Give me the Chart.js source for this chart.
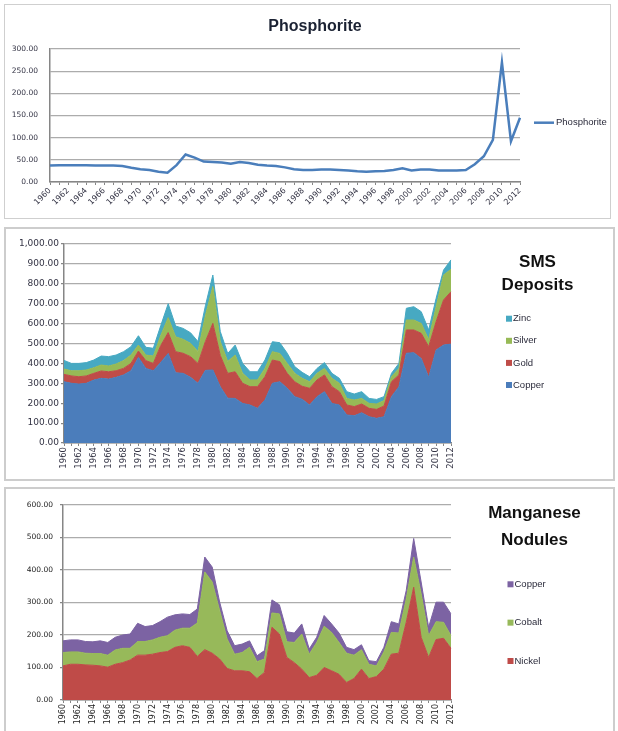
<!DOCTYPE html>
<html><head><meta charset="utf-8">
<script src="https://cdn.jsdelivr.net/npm/chart.js@4.4.1/dist/chart.umd.min.js"></script>
<style>
html,body{margin:0;padding:0;background:#fff;}
body{width:618px;height:731px;position:relative;overflow:hidden;}
.panel{position:absolute;box-sizing:border-box;border:1px solid #cfcfcf;}
canvas{position:absolute;}
</style></head><body>
<div class="panel" style="left:4px;top:4px;width:607px;height:215px;"></div>
<div class="panel" style="left:4px;top:227px;width:611px;height:254px;border:2px solid #cdcdcd;"></div>
<div class="panel" style="left:4px;top:487px;width:611px;height:250px;border:2px solid #cdcdcd;"></div>
<canvas id="c1" width="605" height="213" style="left:5px;top:5px;"></canvas>
<canvas id="c2" width="608" height="251" style="left:5px;top:228px;"></canvas>
<canvas id="c3" width="608" height="243" style="left:5px;top:488px;"></canvas>
<script>
const yearLabels = ['1960','1961','1962','1963','1964','1965','1966','1967','1968','1969',
'1970','1971','1972','1973','1974','1975','1976','1977','1978','1979',
'1980','1981','1982','1983','1984','1985','1986','1987','1988','1989',
'1990','1991','1992','1993','1994','1995','1996','1997','1998','1999',
'2000','2001','2002','2003','2004','2005','2006','2007','2008','2009',
'2010','2011','2012'];

const phosphorite = [37,38,38,38,38,37,37,37,36,32, 29,27,23,21,38,62,55,46,45,44, 41,45,43,39,37,36,33,29,27,27, 28,28,27,26,24,23,24,25,27,31, 26,28,28,26,26,26,27,40,58,95, 270,92,145];

const smsCopper = [308,300,296,300,316,325,321,330,342,363, 430,375,363,405,450,353,350,330,300,365, 367,283,225,224,199,191,174,216,300,308, 275,233,220,191,233,258,199,191,141,137, 152,132,124,132,233,283,451,454,425,330, 467,492,497];
const smsGold = [37,37,37,37,34,37,37,33,33,37, 32,39,37,85,105,106,101,104,100,145, 234,157,125,134,101,92,109,117,117,101, 75,75,65,84,84,84,84,67,50,46, 44,42,45,54,75,59,117,114,126,154, 143,227,263];
const smsSilver = [27,26,30,30,28,30,29,34,39,42, 30,28,37,50,75,75,70,67,60,130, 185,70,60,84,50,34,34,42,42,41, 50,42,40,33,33,33,42,42,33,33, 28,25,27,27,25,33,50,50,50,36, 75,125,113];
const smsZinc = [43,37,37,37,39,45,47,45,45,42, 47,39,39,50,70,54,55,53,50,50, 58,50,40,50,50,41,41,42,50,54, 51,34,30,25,25,29,25,25,34,30, 34,25,23,20,17,25,59,67,59,48, 42,25,47];

const mnNickel = [105,110,110,108,107,105,101,110,115,123, 138,138,141,146,149,162,167,162,134,155, 144,126,97,90,90,87,66,85,224,203, 131,115,95,69,76,100,90,79,54,66, 95,66,72,95,141,144,239,347,193,131, 186,190,159];
const mnCobalt = [41,38,38,36,36,38,37,44,44,36, 42,42,44,47,49,53,54,59,103,239, 219,149,91,51,56,75,52,41,44,62, 48,62,108,72,101,127,118,98,90,72, 60,44,33,53,67,62,72,93,134,67, 55,49,39];
const mnCopper = [36,37,37,36,36,39,39,39,41,44, 56,46,44,48,57,47,44,42,43,46, 46,26,25,26,26,20,18,26,40,28, 31,29,31,16,16,33,26,29,18,17, 15,11,13,14,33,28,26,57,36,26, 60,62,67];

const FAM = '"Liberation Sans", Arial, sans-serif';
const fmt = (v) => Number(v).toLocaleString('en-US', {minimumFractionDigits: 2, maximumFractionDigits: 2});

const panelText = {
  id: 'panelText',
  afterDraw(chart, args, o) {
    const ctx = chart.ctx;
    ctx.save();
    ctx.fillStyle = o.titleColor;
    ctx.font = o.titleFont;
    ctx.textAlign = 'center';
    ctx.textBaseline = 'alphabetic';
    o.title.forEach((line, k) => ctx.fillText(line, o.titleX, o.titleY + k * o.titleStep));
    const items = chart.data.datasets.map(d => ({text: d.label, color: d.borderColor})).reverse();
    ctx.font = o.legendFont;
    ctx.textAlign = 'left';
    ctx.textBaseline = 'middle';
    items.forEach((it, k) => {
      const y = o.legendY + k * o.legendStep;
      if (o.marker === 'line') {
        ctx.strokeStyle = it.color; ctx.lineWidth = o.markerSize;
        ctx.beginPath(); ctx.moveTo(o.legendX, y); ctx.lineTo(o.legendX + o.markerLen, y); ctx.stroke();
      } else {
        ctx.fillStyle = it.color;
        ctx.fillRect(o.legendX, y - o.markerSize / 2, o.markerLen, o.markerSize);
      }
      ctx.fillStyle = o.legendColor;
      ctx.fillText(it.text, o.legendX + o.markerLen + o.gap, y);
    });
    ctx.restore();
  }
};

function makeOptions(c) {
  return {
    responsive: false,
    animation: false,
    layout: {padding: c.padding},
    plugins: {legend: {display: false}, title: {display: false}, tooltip: {enabled: false}, panelText: c.text},
    elements: {point: {radius: 0}, line: {tension: 0}},
    scales: {
      x: {
        offset: false,
        grid: {display: true, drawOnChartArea: false, drawTicks: true, tickLength: 3, color: '#868686'},
        border: {display: true, color: '#868686', width: 1.5},
        ticks: {autoSkip: false, maxRotation: c.rot, minRotation: c.rot, padding: c.xPad, color: c.xColor,
                font: c.xFont, callback: (v, i) => (i % 2 === 0 ? yearLabels[i] : '')},
        afterFit: (s) => { s.height = c.xHeight; }
      },
      y: {
        stacked: c.stacked,
        min: 0, max: c.max,
        ticks: {stepSize: c.step, padding: c.yPad, color: c.yColor, font: c.yFont, callback: fmt},
        grid: {color: '#acacac', lineWidth: 1.2, drawTicks: c.yTick > 0, tickLength: c.yTick, tickColor: '#868686'},
        border: {display: true, color: '#868686', width: 1.5},
        afterFit: (s) => { s.width = c.yWidth; }
      }
    }
  };
}

function area(label, data, color, first) {
  return {label, data, backgroundColor: color, borderColor: color, borderWidth: 1, fill: first ? 'origin' : '-1', pointRadius: 0};
}

new Chart(document.getElementById('c1'), {
  type: 'line',
  data: {labels: yearLabels, datasets: [{label: 'Phosphorite', data: phosphorite, borderColor: '#4a7ebb', backgroundColor: '#4a7ebb', borderWidth: 2.5, fill: false, pointRadius: 0}]},
  options: makeOptions({
    padding: {left: 0, top: 44, right: 90, bottom: 0},
    rot: 45, xPad: 1, xColor: '#333344', xFont: {family: 'DejaVu Sans', size: 8}, xHeight: 36,
    stacked: false, max: 300, step: 50, yPad: 12, yColor: '#333344', yFont: {family: 'DejaVu Sans', size: 7.5}, yTick: 0, yWidth: 45,
    text: {title: ['Phosphorite'], titleX: 310, titleY: 26, titleStep: 0, titleFont: 'bold 16px ' + FAM, titleColor: '#1b2233',
           marker: 'line', markerSize: 2.5, markerLen: 20, gap: 2, legendX: 529, legendY: 117.7, legendStep: 0,
           legendFont: '9.5px ' + FAM, legendColor: '#2a2a3a'}
  }),
  plugins: [panelText]
});

new Chart(document.getElementById('c2'), {
  type: 'line',
  data: {labels: yearLabels, datasets: [
    area('Copper', smsCopper, '#4b7dbb', true),
    area('Gold', smsGold, '#bf4c48', false),
    area('Silver', smsSilver, '#97ba56', false),
    area('Zinc', smsZinc, '#47a9c2', false)
  ]},
  options: makeOptions({
    padding: {left: 0, top: 16, right: 162, bottom: 0},
    rot: 90, xPad: 1, xColor: '#333344', xFont: {family: 'DejaVu Sans', size: 8.5}, xHeight: 36,
    stacked: true, max: 1000, step: 100, yPad: 2, yColor: '#333344', yFont: {family: 'DejaVu Sans', size: 9}, yTick: 3, yWidth: 59,
    text: {title: ['SMS', 'Deposits'], titleX: 532.5, titleY: 38.7, titleStep: 23.3, titleFont: 'bold 17px ' + FAM, titleColor: '#111',
           marker: 'box', markerSize: 6, markerLen: 6, gap: 1, legendX: 501, legendY: 90.7, legendStep: 22.1,
           legendFont: '9.5px ' + FAM, legendColor: '#2a2a3a'}
  }),
  plugins: [panelText]
});

new Chart(document.getElementById('c3'), {
  type: 'line',
  data: {labels: yearLabels, datasets: [
    area('Nickel', mnNickel, '#bf4b48', true),
    area('Cobalt', mnCobalt, '#97b95a', false),
    area('Copper', mnCopper, '#7c63a3', false)
  ]},
  options: makeOptions({
    padding: {left: 0, top: 17, right: 162, bottom: 0},
    rot: 90, xPad: 1, xColor: '#222', xFont: {family: 'DejaVu Sans', size: 8}, xHeight: 31,
    stacked: true, max: 600, step: 100, yPad: 7, yColor: '#222', yFont: {family: 'DejaVu Sans', size: 7.5}, yTick: 3, yWidth: 58,
    text: {title: ['Manganese', 'Nodules'], titleX: 529.5, titleY: 30.3, titleStep: 26.7, titleFont: 'bold 17px ' + FAM, titleColor: '#111',
           marker: 'box', markerSize: 6, markerLen: 6, gap: 1, legendX: 502.5, legendY: 96.3, legendStep: 38.35,
           legendFont: '9.5px ' + FAM, legendColor: '#2a2a3a'}
  }),
  plugins: [panelText]
});
</script>
</body></html>
